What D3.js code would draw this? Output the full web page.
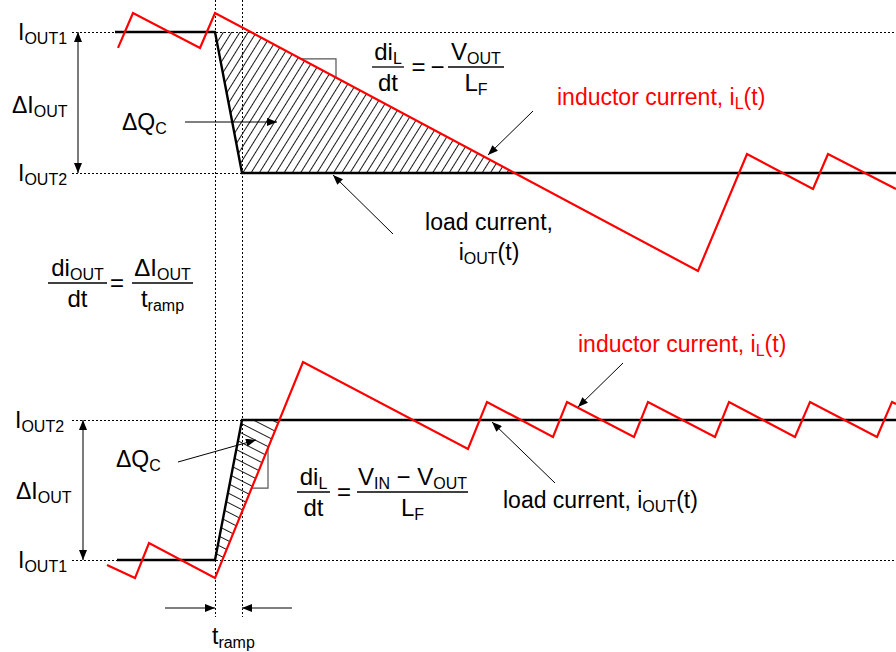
<!DOCTYPE html>
<html><head><meta charset="utf-8">
<script src="https://cdn.jsdelivr.net/npm/d3@7"></script>
<style>body{margin:0;background:#fff} svg{display:block} text{font-family:"Liberation Sans",Arial,Helvetica,sans-serif;fill:#000}</style>
</head><body><svg id="c" width="896" height="652"></svg>
<script>
// ---- data (time in arbitrary units, step at t=0; current normalised 0..1 between the two load levels)
const timeTop      = [-9.7, -8.2, -1.5, 0, 48.3, 53.2, 59.8, 61.3, 68.1];
const inductorTop  = [0.887, 1.135, 0.887, 1.135, -0.695, 0.135, -0.113, 0.135, -0.113];
const loadTimeTop  = [-10, 0, 2.7, 68.1];
const loadTop      = [1, 1, 0, 0];
const timeBot      = [-10.8, -8.0, -6.6, 0, 8.8, 25.3, 27.2, 33.8, 35.2, 41.9, 43.3, 50.0, 51.4, 58.0, 59.5, 66.2, 67.7, 68.1];
const inductorBot  = [-0.036, -0.129, 0.121, -0.129, 1.414, 0.793, 1.129, 0.879, 1.129, 0.879, 1.129, 0.879, 1.129, 0.879, 1.129, 0.879, 1.129, 1.114];
const loadTimeBot  = [-9.8, 0, 2.7, 68.1];
const loadBot      = [0, 0, 1, 1];
const rampTimes    = [0, 2.7];
const levelsTop    = [1, 0];
const levelsBot    = [1, 0];
const levelSubsTop = ["OUT1", "OUT2"];
const levelSubsBot = ["OUT2", "OUT1"];

const svg = d3.select("#c");
const x = d3.scaleLinear().domain([-21.5, 68.1]).range([0, 896]);
const yTop = d3.scaleLinear().domain([0, 1]).range([173, 32]);
const yBot = d3.scaleLinear().domain([0, 1]).range([560, 420]);
const zip = (a, b) => a.map((v, i) => [v, b[i]]);
const mk = ys => d3.line().x(d => x(d[0])).y(d => ys(d[1]));
const tAt = (p0, p1, v) => p0[0] + (v - p0[1]) * (p1[0] - p0[0]) / (p1[1] - p0[1]);
const vAt = (p0, p1, t) => p0[1] + (t - p0[0]) * (p1[1] - p0[1]) / (p1[0] - p0[0]);

const defs = svg.append("defs");
defs.append("marker").attr("id", "ah").attr("markerUnits", "userSpaceOnUse")
  .attr("viewBox", "0 0 10 8").attr("refX", 10).attr("refY", 4)
  .attr("markerWidth", 11).attr("markerHeight", 8).attr("orient", "auto-start-reverse")
  .append("path").attr("d", "M0,0L10,4L0,8Z").attr("fill", "#000");
const pt = defs.append("pattern").attr("id", "hTop").attr("patternUnits", "userSpaceOnUse")
  .attr("width", 10).attr("height", 7).attr("patternTransform", "rotate(-58)");
pt.append("line").attr("x1", -1).attr("x2", 11).attr("y1", 3.5).attr("y2", 3.5).attr("stroke", "#000").attr("stroke-width", 0.9);
const pb = defs.append("pattern").attr("id", "hBot").attr("patternUnits", "userSpaceOnUse")
  .attr("width", 10).attr("height", 8.5).attr("patternTransform", "rotate(27)");
pb.append("line").attr("x1", -1).attr("x2", 11).attr("y1", 4.25).attr("y2", 4.25).attr("stroke", "#000").attr("stroke-width", 0.9);

const indTop = zip(timeTop, inductorTop), indBot = zip(timeBot, inductorBot);
const ldTop = zip(loadTimeTop, loadTop), ldBot = zip(loadTimeBot, loadBot);

// hatched charge areas
const sT0 = indTop[3], sT1 = indTop[4];
const hatchTop = [ldTop[1], [tAt(sT0, sT1, 1), 1], [tAt(sT0, sT1, 0), 0], ldTop[2]];
svg.append("path").attr("d", mk(yTop)(hatchTop) + "Z").attr("fill", "url(#hTop)");
const sB0 = indBot[3], sB1 = indBot[4];
const hatchBot = [ldBot[1], ldBot[2], [tAt(sB0, sB1, 1), 1], [tAt(sB0, sB1, 0), 0]];
svg.append("path").attr("d", mk(yBot)(hatchBot) + "Z").attr("fill", "url(#hBot)");

// dotted reference lines
const dot = "2,2";
const hl = (y) => svg.append("line").attr("x1", 72).attr("x2", 896).attr("y1", Math.round(y) + 0.5).attr("y2", Math.round(y) + 0.5)
  .attr("stroke", "#000").attr("stroke-width", 1).attr("stroke-dasharray", dot).attr("shape-rendering", "crispEdges");
levelsTop.forEach(v => hl(yTop(v)));
levelsBot.forEach(v => hl(yBot(v)));
rampTimes.forEach(t => svg.append("line").attr("x1", Math.round(x(t)) + 0.5).attr("x2", Math.round(x(t)) + 0.5).attr("y1", 0).attr("y2", 617)
  .attr("stroke", "#000").attr("stroke-width", 1).attr("stroke-dasharray", dot).attr("shape-rendering", "crispEdges"));

// slope triangles
function slopeTri(ys, p0, p1, tc, ic) {
  const pts = [[tAt(p0, p1, ic), ic], [tc, ic], [tc, vAt(p0, p1, tc)]];
  svg.append("path").attr("d", mk(ys)(pts)).attr("fill", "none").attr("stroke", "#555").attr("stroke-width", 1.2);
}
slopeTri(yTop, sT0, sT1, 12.1, 0.809);
slopeTri(yBot, sB0, sB1, 5.3, 0.514);

// load current
svg.append("path").attr("d", mk(yTop)(ldTop)).attr("fill", "none").attr("stroke", "#000").attr("stroke-width", 2.4);
svg.append("path").attr("d", mk(yBot)(ldBot)).attr("fill", "none").attr("stroke", "#000").attr("stroke-width", 2.4);
// inductor current
svg.append("path").attr("d", mk(yTop)(indTop)).attr("fill", "none").attr("stroke", "#ff0000").attr("stroke-width", 2.2).attr("stroke-linejoin", "miter");
svg.append("path").attr("d", mk(yBot)(indBot)).attr("fill", "none").attr("stroke", "#ff0000").attr("stroke-width", 2.2).attr("stroke-linejoin", "miter");

// arrows
function arrow(x1, y1, x2, y2, col, w, both) {
  const l = svg.append("line").attr("x1", x1).attr("y1", y1).attr("x2", x2).attr("y2", y2)
    .attr("stroke", col).attr("stroke-width", w).attr("marker-end", "url(#ah)");
  if (both) l.attr("marker-start", "url(#ah)");
}
arrow(185, 122, 277, 122, "#000", 1);
arrow(533, 111, 488, 155, "#000", 1);
arrow(393, 234, 333, 175, "#000", 1);
arrow(178, 462, 256, 440, "#000", 1);
arrow(623, 363, 578, 407, "#000", 1);
arrow(555, 483, 492, 422, "#000", 1);
arrow(78, yTop(1), 78, yTop(0), "#444", 1.4, true);
arrow(83, yBot(1), 83, yBot(0), "#444", 1.4, true);
arrow(165, 608, x(rampTimes[0]), 608, "#555", 1.4);
arrow(292, 608, x(rampTimes[1]), 608, "#555", 1.4);

// rich text: parts = [text, isSub]
function rich(px, py, parts, opt = {}) {
  const fs = opt.fs || 23, ss = opt.ss || 16;
  const t = svg.append("text").attr("x", px).attr("y", py).attr("font-size", fs)
    .attr("text-anchor", opt.anchor || "start").attr("fill", opt.color || "#000").style("fill", opt.color || "#000");
  let shifted = false;
  parts.forEach(([s, sub]) => {
    const sp = t.append("tspan").text(s);
    if (sub) { sp.attr("font-size", ss); if (!shifted) { sp.attr("dy", 4); shifted = true; } }
    else { if (shifted) { sp.attr("dy", -4); shifted = false; } }
  });
  return t;
}
function frac(cx, y, w, num, den) {
  svg.append("line").attr("x1", cx - w / 2).attr("x2", cx + w / 2).attr("y1", y).attr("y2", y).attr("stroke", "#000").attr("stroke-width", 1.3);
  rich(cx, y - 7, num, { fs: 24, anchor: "middle" });
  rich(cx, y + 24, den, { fs: 24, anchor: "middle" });
}
function sym(cx, y, s) {
  svg.append("text").attr("x", cx).attr("y", y + 8).attr("font-size", 24).attr("text-anchor", "middle").text(s);
}

// level labels
levelsTop.forEach((v, i) => rich(18, yTop(v) + 8, [["I"], [levelSubsTop[i], 1]]));
levelsBot.forEach((v, i) => rich(i === 0 ? 15 : 18, yBot(v) + 8, [["I"], [levelSubsBot[i], 1]]));
rich(12, 113, [["ΔI"], ["OUT", 1]]);
rich(16, 499, [["ΔI"], ["OUT", 1]]);
rich(122, 130, [["ΔQ"], ["C", 1]]);
rich(116, 467, [["ΔQ"], ["C", 1]]);
rich(212, 644, [["t"], ["ramp", 1]]);

// formulas
frac(388, 67, 32, [["di"], ["L", 1]], [["dt"]]);
sym(418.5, 67, "=");
sym(437.5, 67, "−");
frac(476, 67, 56, [["V"], ["OUT", 1]], [["L"], ["F", 1]]);

frac(77.5, 283, 59, [["di"], ["OUT", 1]], [["dt"]]);
sym(117, 283, "=");
frac(162.5, 283, 61, [["ΔI"], ["OUT", 1]], [["t"], ["ramp", 1]]);

frac(313.5, 492, 33, [["di"], ["L", 1]], [["dt"]]);
sym(344, 492, "=");
frac(412.5, 492, 111, [["V"], ["IN", 1], [" − V"], ["OUT", 1]], [["L"], ["F", 1]]);

// curve labels
rich(557, 105, [["inductor current, i"], ["L", 1], ["(t)"]], { color: "#ff0000" });
rich(578, 352, [["inductor current, i"], ["L", 1], ["(t)"]], { color: "#ff0000" });
rich(489, 230, [["load current,"]], { anchor: "middle" });
rich(489, 260, [["i"], ["OUT", 1], ["(t)"]], { anchor: "middle" });
rich(503, 508, [["load current, i"], ["OUT", 1], ["(t)"]]);
</script></body></html>
